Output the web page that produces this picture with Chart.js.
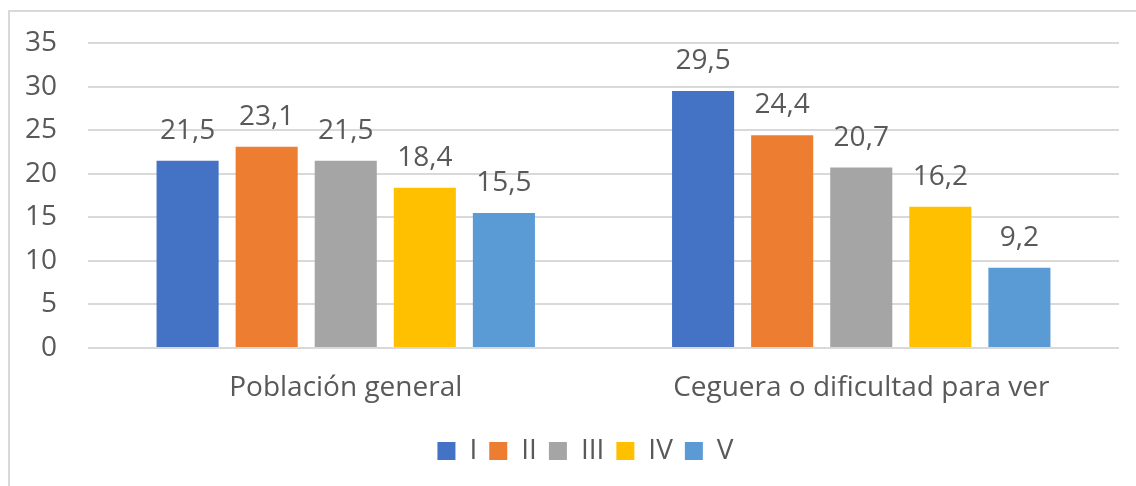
<!DOCTYPE html>
<html>
<head>
<meta charset="utf-8">
<script src="https://cdn.jsdelivr.net/npm/chart.js@4.4.0/dist/chart.umd.min.js"></script>
<style>
    html, body { margin: 0; padding: 0; background: #fff; overflow: hidden; }
    #frame {
        position: absolute; left: 8px; top: 10px; width: 1200px; height: 600px;
        border-left: 2px solid #d9d9d9; border-top: 2px solid #d9d9d9;
    }
    #wrap { position: absolute; left: 0; top: 0; width: 1136px; height: 486px; }
</style>
</head>
<body>
<div id="frame"></div>
<div id="wrap"><canvas id="chart"></canvas></div>
<script>
const categories = ['Población general', 'Ceguera o dificultad para ver'];
const seriesNames = ['I', 'II', 'III', 'IV', 'V'];
const seriesI = [21.5, 29.5];
const seriesII = [23.1, 24.4];
const seriesIII = [21.5, 20.7];
const seriesIV = [18.4, 16.2];
const seriesV = [15.5, 9.2];
const colors = ['#4472C4', '#ED7D31', '#A5A5A5', '#FFC000', '#5B9BD5'];

const FONT = '"Open Sans", "Noto Sans", sans-serif';
const TEXT = '#595959';

// draw the value above every bar (comma decimal)
const valueLabels = {
    id: 'valueLabels',
    afterDatasetsDraw(chart) {
        const ctx = chart.ctx;
        ctx.save();
        ctx.font = '28px ' + FONT;
        ctx.fillStyle = TEXT;
        ctx.textAlign = 'center';
        ctx.textBaseline = 'middle';
        chart.data.datasets.forEach(function(ds, i) {
            const meta = chart.getDatasetMeta(i);
            meta.data.forEach(function(bar, j) {
                const txt = ds.data[j].toFixed(1).replace('.', ',');
                ctx.fillText(txt, bar.x, bar.y - 30);
            });
        });
        ctx.restore();
    }
};

// legend in the reference sits a bit right of the canvas centre
const shiftLegend = {
    id: 'shiftLegend',
    afterLayout(chart) {
        if (chart.legend) {
            chart.legend.left += 26;
            chart.legend.right += 26;
        }
    }
};

const allSeries = [seriesI, seriesII, seriesIII, seriesIV, seriesV];

new Chart(document.getElementById('chart'), {
    type: 'bar',
    data: {
        labels: categories,
        datasets: allSeries.map(function(d, i) {
            return {
                label: seriesNames[i],
                data: d,
                backgroundColor: colors[i],
                borderWidth: 0,
                barPercentage: 0.785,
                categoryPercentage: 0.767
            };
        })
    },
    options: {
        responsive: true,
        maintainAspectRatio: false,
        animation: false,
        layout: {
            padding: { left: 0, right: 17, top: 43, bottom: 11 }
        },
        plugins: {
            legend: {
                position: 'bottom',
                labels: {
                    color: TEXT,
                    font: { size: 28, family: FONT },
                    boxWidth: 18,
                    boxHeight: 18,
                    padding: 12
                }
            },
            tooltip: { enabled: false }
        },
        scales: {
            y: {
                min: 0,
                max: 35,
                ticks: {
                    stepSize: 5,
                    color: TEXT,
                    font: { size: 28, family: FONT },
                    padding: 31
                },
                grid: { color: '#D9D9D9', lineWidth: 2, drawTicks: false },
                border: { display: false },
                afterFit: function(s) {
                    s.width = 88;
                    s.paddingTop = 0;
                    s.paddingBottom = 0;
                }
            },
            x: {
                ticks: {
                    color: TEXT,
                    font: { size: 28, family: FONT },
                    padding: 23
                },
                grid: { display: false, drawTicks: false },
                border: { display: false },
                afterFit: function(s) { s.height = 77; }
            }
        }
    },
    plugins: [valueLabels, shiftLegend]
});
</script>
</body>
</html>
